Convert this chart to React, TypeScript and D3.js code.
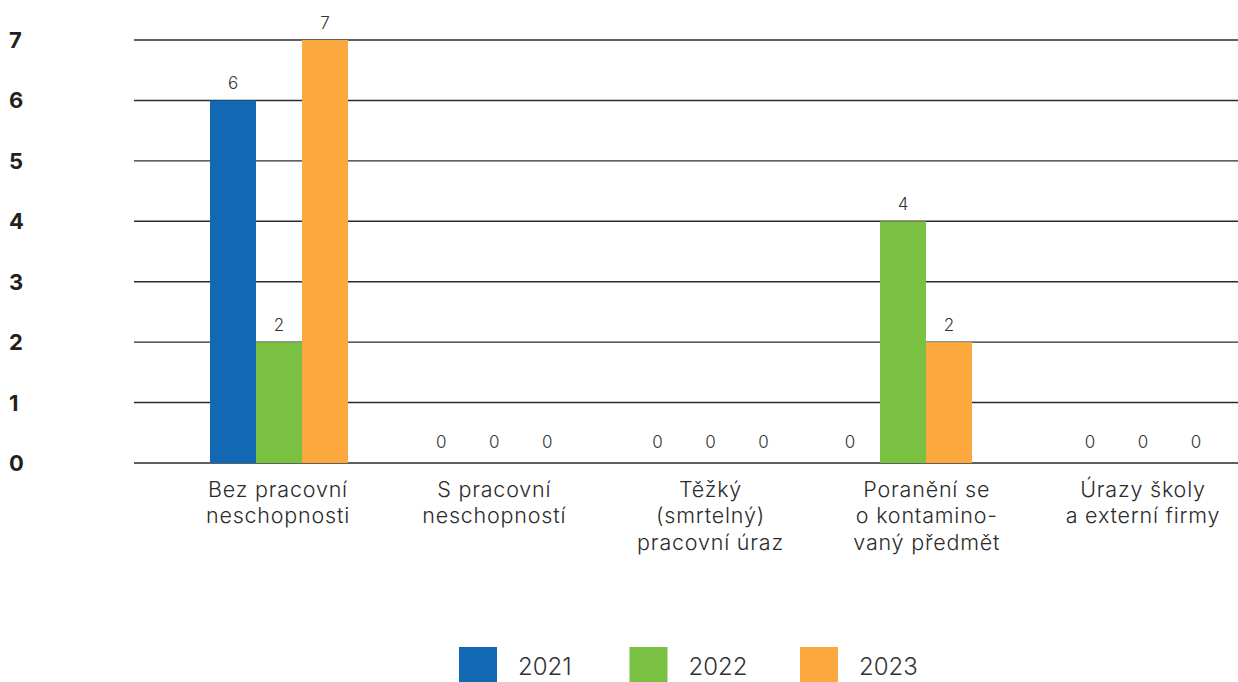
import React from "react";
import * as d3 from "d3";

const categories: string[][] = [
  ["Bez pracovní", "neschopnosti"],
  ["S pracovní", "neschopností"],
  ["Těžký", "(smrtelný)", "pracovní úraz"],
  ["Poranění se", "o kontamino-", "vaný předmět"],
  ["Úrazy školy", "a externí firmy"],
];
const seriesNames = ["2021", "2022", "2023"];
const values2021 = [6, 0, 0, 0, 0];
const values2022 = [2, 0, 0, 4, 0];
const values2023 = [7, 0, 0, 2, 0];
const colors = ["#1368B3", "#7AC143", "#FBA93E"];
const yTicks = [0, 1, 2, 3, 4, 5, 6, 7];

const W = 1238;
const H = 682;
const FONT = "Inter, 'Open Sans', 'DejaVu Sans', sans-serif";

export default function App() {
  const series = [values2021, values2022, values2023];
  const y = d3.scaleLinear().domain([0, 7]).range([463, 40]);
  const step = 208;
  const x0 = d3
    .scaleBand<number>()
    .domain(categories.map((_, i) => i))
    .range([279 - step / 2, 279 - step / 2 + step * 5])
    .padding(0);
  // category text sits on a slightly wider grid than the bar groups
  const xl = d3
    .scalePoint<number>()
    .domain(categories.map((_, i) => i))
    .range([278, 1143]);
  const groupW = 138;
  const innerOffset = (x0.bandwidth() - groupW) / 2;
  const x1 = d3.scaleBand<number>().domain([0, 1, 2]).range([0, groupW]);
  const xz = d3
    .scaleBand<number>()
    .domain([0, 1, 2])
    .range([groupW / 2 - 79.5, groupW / 2 + 79.5]);

  return (
    <svg
      width={W}
      height={H}
      style={{ position: "absolute", left: 0, top: 0, background: "#fff" }}
      fontFamily={FONT}
    >
      {yTicks.map((t) => (
        <g key={t}>
          <line x1={134} x2={1238} y1={y(t)} y2={y(t)} stroke="#2b2b2b" strokeWidth={1.4} />
          <text x={9} y={y(t) + 8} fontSize={22} fontWeight={700} fill="#231f20">
            {t}
          </text>
        </g>
      ))}
      {categories.map((cat, ci) => {
        const gx = (x0(ci) as number) + innerOffset;
        const allZero = series.every((s) => s[ci] === 0);
        const zeroBase = allZero ? (xl(ci) as number) - groupW / 2 : gx;
        return (
          <g key={ci}>
            {series.map((vals, si) => {
              const v = vals[ci];
              const bx = gx + (x1(si) as number);
              const cx =
                v === 0
                  ? zeroBase + (xz(si) as number) + xz.bandwidth() / 2
                  : bx + x1.bandwidth() / 2;
              return (
                <g key={si}>
                  {v > 0 && (
                    <rect
                      x={bx}
                      y={y(v)}
                      width={x1.bandwidth()}
                      height={y(0) - y(v)}
                      fill={colors[si]}
                    />
                  )}
                  <text
                    x={cx}
                    y={y(v) - (v === 0 ? 15 : 11)}
                    textAnchor="middle"
                    fontSize={17}
                    fontWeight={300}
                    fill="#333"
                  >
                    {v}
                  </text>
                </g>
              );
            })}
            <text
              textAnchor="middle"
              fontSize={21.5}
              fontWeight={300}
              letterSpacing={0.8}
              fill="#2b2b2b"
            >
              {cat.map((line, li) => (
                <tspan key={li} x={xl(ci) as number} y={497 + li * 26.3}>
                  {line}
                </tspan>
              ))}
            </text>
          </g>
        );
      })}
      {seriesNames.map((name, i) => {
        const lx = d3.scaleLinear().domain([0, 2]).range([459, 800])(i);
        return (
          <g key={name}>
            <rect x={lx} y={647} width={38} height={35} fill={colors[i]} />
            <text
              x={lx + 59}
              y={675}
              fontSize={24}
              fontWeight={300}
              fill="#333"
            >
              {name}
            </text>
          </g>
        );
      })}
    </svg>
  );
}
